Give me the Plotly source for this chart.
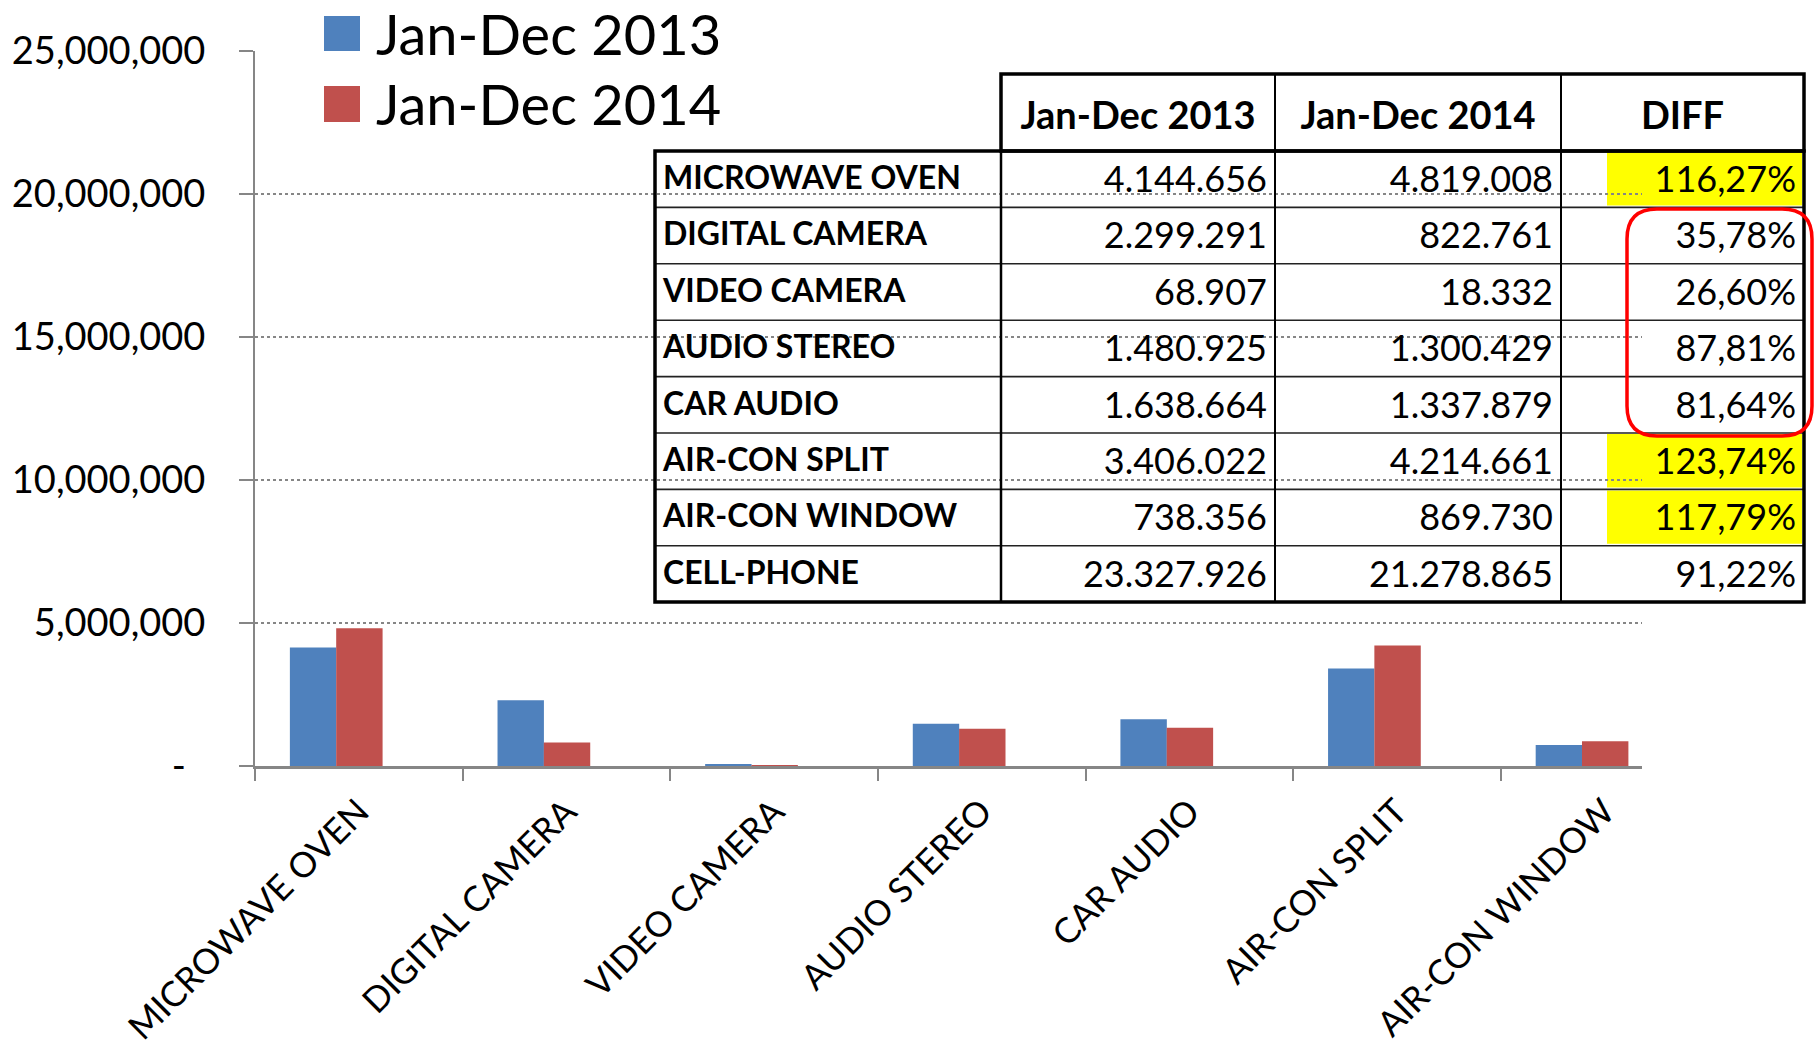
import plotly.graph_objects as go

# chart data
categories = ["MICROWAVE OVEN", "DIGITAL CAMERA", "VIDEO CAMERA", "AUDIO STEREO",
              "CAR AUDIO", "AIR-CON SPLIT", "AIR-CON WINDOW"]
sales_2013 = [4144656, 2299291, 68907, 1480925, 1638664, 3406022, 738356]
sales_2014 = [4819008, 822761, 18332, 1300429, 1337879, 4214661, 869730]

# table data (table also lists cell phones)
table_items = categories + ["CELL-PHONE"]
table_2013 = sales_2013 + [23327926]
table_2014 = sales_2014 + [21278865]
table_diff = [116.27, 35.78, 26.60, 87.81, 81.64, 123.74, 117.79, 91.22]
highlight = [True, False, False, False, False, True, True, False]

y_ticks = [0, 5000000, 10000000, 15000000, 20000000, 25000000]
y_labels = ["-\u00a0\u00a0", "5,000,000", "10,000,000", "15,000,000", "20,000,000", "25,000,000"]

BLUE = "#4F81BD"
RED = "#C0504D"
GRAY = "#868686"
FONT = "Lato"

# plot area in pixels
L, R, T, B = 255, 15, 51, 289
W, H = 1819, 1055
PW = W - L - R
PH = H - T - B


def px(x):
    return (x - L) / PW


def py(y):
    return (H - B - y) / PH


fig = go.Figure()
fig.add_trace(go.Bar(x=categories, y=sales_2013, name="Jan-Dec 2013",
                     marker=dict(color=BLUE, line=dict(width=0)),
                     width=0.2235, offset=-0.332))
fig.add_trace(go.Bar(x=categories, y=sales_2014, name="Jan-Dec 2014",
                     marker=dict(color=RED, line=dict(width=0)),
                     width=0.2235, offset=-0.109))


def euro(v):
    return f"{v:,}".replace(",", ".")


clear = "rgba(0,0,0,0)"
row_h = 56.4
head_top = 92

# table text; its ruling and highlights are drawn with shapes below
fig.add_trace(go.Table(
    domain=dict(x=[px(655), 1.0], y=[py(157 + 8 * row_h + 1), py(head_top)]),
    columnwidth=[346, 274, 286, 243],
    header=dict(
        values=["", "Jan-Dec 2013", "Jan-Dec 2014", "DIFF"],
        height=157 - head_top, align="center",
        font=dict(family=FONT, size=38, color="black", weight="bold"),
        line=dict(color=clear, width=0),
        fill=dict(color=clear),
    ),
    cells=dict(
        values=[table_items,
                [euro(v) for v in table_2013],
                [euro(v) for v in table_2014],
                [f"{d:.2f}%".replace(".", ",") for d in table_diff]],
        height=row_h,
        align=["left", "right", "right", "right"],
        font=dict(family=FONT, size=[32, 36, 36, 36], color="black",
                  weight=["bold", "normal", "normal", "normal"]),
        line=dict(color=clear, width=0),
        fill=dict(color=clear),
    ),
))


def hline(y, xa, xb, w, c="black"):
    return dict(type="line", xref="paper", yref="paper", x0=px(xa), x1=px(xb),
                y0=py(y), y1=py(y), line=dict(color=c, width=w))


def vline(x, ya, yb, w, c="black"):
    return dict(type="line", xref="paper", yref="paper", x0=px(x), x1=px(x),
                y0=py(ya), y1=py(yb), line=dict(color=c, width=w))


shapes = []
# yellow highlights in the DIFF column
for i, h in enumerate(highlight):
    if h:
        top = 151 + i * row_h
        shapes.append(dict(type="rect", xref="paper", yref="paper", layer="below",
                           x0=px(1607), x1=px(1802), y0=py(top + row_h - 2), y1=py(top + 1),
                           fillcolor="#FFFF00", line=dict(width=0)))
for k in range(1, 8):
    shapes.append(hline(151 + k * row_h, 655, 1804, 1.6, "#222222"))
shapes.append(vline(1001, 151, 602, 2.5))
shapes.append(vline(1275, 74, 602, 2))
shapes.append(vline(1561, 74, 602, 2))
shapes += [
    dict(type="rect", xref="paper", yref="paper", x0=px(1001), x1=px(1804), y0=py(151), y1=py(74),
         line=dict(color="black", width=3.5)),
    dict(type="rect", xref="paper", yref="paper", x0=px(655), x1=px(1804), y0=py(602), y1=py(151),
         line=dict(color="black", width=3.5)),
    # legend swatches
    dict(type="rect", xref="paper", yref="paper", x0=px(324), x1=px(360), y0=py(51), y1=py(16),
         fillcolor=BLUE, line=dict(width=0)),
    dict(type="rect", xref="paper", yref="paper", x0=px(324), x1=px(360), y0=py(122), y1=py(86),
         fillcolor=RED, line=dict(width=0)),
]

# red rounded box around the low DIFF values
x0, x1, y0, y1, r = 1627, 1812, 209, 436, 30
path = (f"M{px(x0 + r)},{py(y0)} L{px(x1 - r)},{py(y0)} Q{px(x1)},{py(y0)} {px(x1)},{py(y0 + r)} "
        f"L{px(x1)},{py(y1 - r)} Q{px(x1)},{py(y1)} {px(x1 - r)},{py(y1)} "
        f"L{px(x0 + r)},{py(y1)} Q{px(x0)},{py(y1)} {px(x0)},{py(y1 - r)} "
        f"L{px(x0)},{py(y0 + r)} Q{px(x0)},{py(y0)} {px(x0 + r)},{py(y0)} Z")
shapes.append(dict(type="path", xref="paper", yref="paper", path=path,
                   line=dict(color="#FF0000", width=3.5)))

annotations = [
    dict(text="Jan-Dec 2013", x=px(374), y=py(33), xref="paper", yref="paper",
         xanchor="left", yanchor="middle", showarrow=False,
         font=dict(family=FONT, size=56, color="black")),
    dict(text="Jan-Dec 2014", x=px(374), y=py(103), xref="paper", yref="paper",
         xanchor="left", yanchor="middle", showarrow=False,
         font=dict(family=FONT, size=56, color="black")),
]

fig.update_layout(
    width=W, height=H,
    margin=dict(l=L, r=R, t=T, b=B, autoexpand=False),
    paper_bgcolor="white", plot_bgcolor="white",
    showlegend=False,
    font=dict(family=FONT, color="black"),
    shapes=shapes, annotations=annotations,
    xaxis=dict(
        domain=[0, (1642 - L) / PW],
        range=[-0.5, 6.18],
        tickangle=-45, tickson="boundaries",
        ticks="outside", ticklen=12, tickwidth=2, tickcolor=GRAY,
        ticklabelstandoff=8,
        showline=True, linecolor=GRAY, linewidth=3,
        showgrid=False,
        tickfont=dict(family=FONT, size=35, color="black"),
    ),
    yaxis=dict(
        range=[0, 25000000],
        tickvals=y_ticks, ticktext=y_labels,
        ticks="outside", ticklen=14, tickwidth=2, tickcolor=GRAY,
        ticklabelstandoff=26,
        showline=True, linecolor=GRAY, linewidth=2,
        showgrid=True, gridcolor=GRAY, gridwidth=1.5, griddash="dot",
        zeroline=False,
        tickfont=dict(family=FONT, size=38, color="black"),
    ),
)

fig.write_html("out.html", config={"displayModeBar": False},
               post_script="document.body.style.margin='0';")
